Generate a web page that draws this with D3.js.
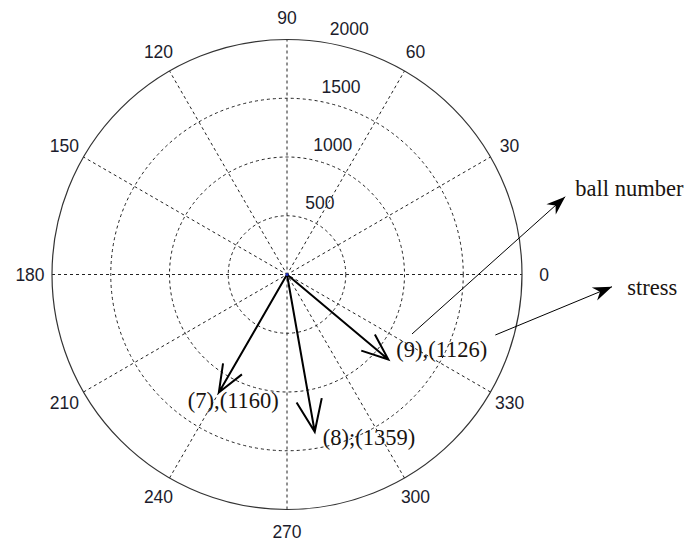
<!DOCTYPE html>
<html>
<head>
<meta charset="utf-8">
<script src="https://cdn.jsdelivr.net/npm/d3@7"></script>
<style>
  body { margin: 0; background: #fff; }
  svg { display: block; }
</style>
</head>
<body>
<div id="chart"></div>
<script>
// polar grid
const angleTicks  = [0, 30, 60, 90, 120, 150, 180, 210, 240, 270, 300, 330];
const radialTicks = [500, 1000, 1500, 2000];

// compass vectors (ball number, stress, direction in degrees)
const balls    = [7, 8, 9];
const stresses = [1160, 1359, 1126];
const angles   = [240, 280, 320];
const labels   = ["(7),(1160)", "(8);(1359)", "(9),(1126)"];

// callouts, in stress units on the cartesian plane
const calloutNames = ["ball number", "stress"];
const calloutFrom  = [[1064, -506], [1773, -515]];
const calloutTo    = [[2368, 662], [2766, -104]];
const calloutText  = [[2454, 668], [2896, -174]];

const width = 685, height = 541;
const cx = 287, cy = 274.5, R = 235;

const rScale = d3.scaleLinear().domain([0, 2000]).range([0, R]);
const xScale = d3.scaleLinear().domain([-2000, 2000]).range([cx - R, cx + R]);
const yScale = d3.scaleLinear().domain([-2000, 2000]).range([cy + R, cy - R]);
const rad = d => d * Math.PI / 180;
const px = (r, a) => cx + rScale(r) * Math.cos(rad(a));
const py = (r, a) => cy - rScale(r) * Math.sin(rad(a));

const svg = d3.select("#chart").append("svg")
  .attr("width", width)
  .attr("height", height);

svg.append("defs").append("marker")
  .attr("id", "head")
  .attr("viewBox", "-20 -8 22 16")
  .attr("refX", 0).attr("refY", 0)
  .attr("markerWidth", 22).attr("markerHeight", 16)
  .attr("markerUnits", "userSpaceOnUse")
  .attr("orient", "auto")
  .append("path")
    .attr("d", "M0,0 L-19,-7 L-13,0 L-19,7 Z")
    .attr("fill", "#000");

const grid = svg.append("g").attr("class", "grid");

// dashed rings
grid.selectAll("circle.ring")
  .data(radialTicks.slice(0, -1))
  .join("circle")
    .attr("class", "ring")
    .attr("cx", cx).attr("cy", cy)
    .attr("r", d => rScale(d))
    .attr("fill", "none")
    .attr("stroke", "#222")
    .attr("stroke-width", 1)
    .attr("stroke-dasharray", "3,3");

// spokes
grid.selectAll("line.spoke")
  .data(angleTicks.filter(a => a < 180))
  .join("line")
    .attr("class", "spoke")
    .attr("x1", d => px(2000, d + 180)).attr("y1", d => py(2000, d + 180))
    .attr("x2", d => px(2000, d)).attr("y2", d => py(2000, d))
    .attr("stroke", "#222")
    .attr("stroke-width", 1)
    .attr("stroke-dasharray", "3,3");

// outer circle
grid.append("circle")
  .attr("cx", cx).attr("cy", cy)
  .attr("r", rScale(2000))
  .attr("fill", "none")
  .attr("stroke", "#333")
  .attr("stroke-width", 1.2);

// angle labels
grid.selectAll("text.angle")
  .data(angleTicks)
  .join("text")
    .attr("class", "angle")
    .attr("x", d => px(2000, d) + Math.cos(rad(d)) * 22)
    .attr("y", d => py(2000, d) - Math.sin(rad(d)) * 22)
    .attr("text-anchor", "middle")
    .attr("dominant-baseline", "central")
    .attr("font-family", "Liberation Sans, Arial, sans-serif")
    .attr("font-size", 17.5)
    .attr("fill", "#1c1c2c")
    .text(d => d);

// radial labels along 82 degrees
grid.selectAll("text.rtick")
  .data(radialTicks)
  .join("text")
    .attr("class", "rtick")
    .attr("x", d => px(d, 82) + 10)
    .attr("y", d => py(d, 82) - 13)
    .attr("dominant-baseline", "central")
    .attr("font-family", "Liberation Sans, Arial, sans-serif")
    .attr("font-size", 17.5)
    .attr("fill", "#1c1c2c")
    .text(d => d);

// compass arrows
const vecs = balls.map((b, i) => ({ ball: b, stress: stresses[i], angle: angles[i], label: labels[i] }));

const arrowPath = d => {
  const L = rScale(d.stress), t = rad(d.angle);
  const ux = Math.cos(t), uy = -Math.sin(t);
  const tx = cx + L * ux, ty = cy + L * uy;
  const bx = cx + 0.8 * L * ux, by = cy + 0.8 * L * uy;
  const w = 0.08 * L;
  return `M${cx},${cy}L${tx},${ty}` +
         `M${bx - w * uy},${by + w * ux}L${tx},${ty}L${bx + w * uy},${by - w * ux}`;
};

svg.selectAll("path.vec")
  .data(vecs)
  .join("path")
    .attr("class", "vec")
    .attr("d", arrowPath)
    .attr("fill", "none")
    .attr("stroke", "#000")
    .attr("stroke-width", 2);

svg.append("circle")
  .attr("cx", cx).attr("cy", cy).attr("r", 1.5)
  .attr("fill", "#2030c0");

const labelOffset = [[-31, 15], [8, 13], [8, -3]];
svg.selectAll("text.vlabel")
  .data(vecs)
  .join("text")
    .attr("class", "vlabel")
    .attr("x", (d, i) => px(d.stress, d.angle) + labelOffset[i][0])
    .attr("y", (d, i) => py(d.stress, d.angle) + labelOffset[i][1])
    .attr("font-family", "Liberation Serif, Times New Roman, serif")
    .attr("font-size", 22.5)
    .attr("fill", "#1a1410")
    .text(d => d.label);

// callouts
svg.selectAll("line.callout")
  .data(calloutNames)
  .join("line")
    .attr("class", "callout")
    .attr("x1", (d, i) => xScale(calloutFrom[i][0]))
    .attr("y1", (d, i) => yScale(calloutFrom[i][1]))
    .attr("x2", (d, i) => xScale(calloutTo[i][0]))
    .attr("y2", (d, i) => yScale(calloutTo[i][1]))
    .attr("stroke", "#000")
    .attr("stroke-width", 1)
    .attr("marker-end", "url(#head)");

svg.selectAll("text.callout")
  .data(calloutNames)
  .join("text")
    .attr("class", "callout")
    .attr("x", (d, i) => xScale(calloutText[i][0]))
    .attr("y", (d, i) => yScale(calloutText[i][1]))
    .attr("font-family", "Liberation Serif, Times New Roman, serif")
    .attr("font-size", 22.5)
    .attr("fill", "#1a1410")
    .text(d => d);
</script>
</body>
</html>
